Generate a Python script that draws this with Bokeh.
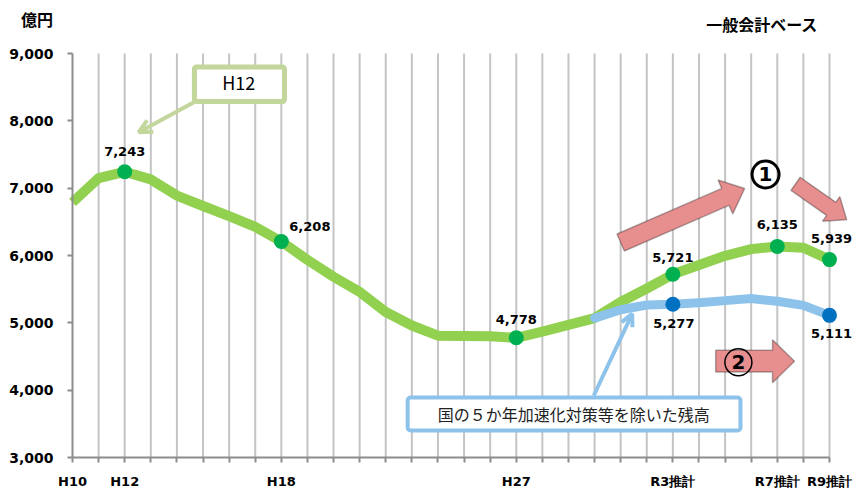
import math
from bokeh.plotting import figure
from bokeh.models import (FixedTicker, NumeralTickFormatter, ColumnDataSource, LabelSet, Label,
                          BoxAnnotation, PolyAnnotation, Arrow, OpenHead, Range1d)
from bokeh.core.properties import value
from bokeh.embed import file_html
from bokeh.resources import INLINE

# ---------------- data ----------------
years = ["H10", "H11", "H12", "H13", "H14", "H15", "H16", "H17", "H18", "H19",
         "H20", "H21", "H22", "H23", "H24", "H25", "H26", "H27", "H28", "H29",
         "H30", "R1", "R2", "R3", "R4", "R5", "R6", "R7", "R8", "R9"]
shown_labels = {"H10": "H10", "H12": "H12", "H18": "H18", "H27": "H27",
                "R3": "R3推計", "R7": "R7推計", "R9": "R9推計"}
total = [6790, 7150, 7243, 7130, 6890, 6735, 6585, 6425, 6208, 5935,
         5685, 5460, 5160, 4960, 4810, 4805, 4800, 4778, 4870, 4970,
         5070, 5310, 5510, 5721, 5860, 5995, 6095, 6135, 6115, 5939]
excl_years = ["H30", "R1", "R2", "R3", "R4", "R5", "R6", "R7", "R8", "R9"]
excl = [5070, 5195, 5265, 5277, 5300, 5330, 5360, 5320, 5260, 5111]
total_marked = ["H12", "H18", "H27", "R3", "R7", "R9"]
excl_marked = ["R3", "R9"]
y_ticks = [3000, 4000, 5000, 6000, 7000, 8000, 9000]
y_min, y_max = 3000, 9000

# ---------------- layout constants ----------------
W, H = 855, 489
FRAME_L, FRAME_R, FRAME_T, FRAME_B = 72, 829, 53, 457   # pixel box of the value area
n = len(years)
SX = (FRAME_R - FRAME_L) / (n - 1)
SY = (FRAME_B - FRAME_T) / float(y_max - y_min)
NUM = "DejaVu Sans"
JP = "Noto Sans CJK JP"
idx = {y: i for i, y in enumerate(years)}
xs = list(range(n))

p = figure(width=W, height=H,
           x_range=Range1d(-FRAME_L / SX, (W - FRAME_L) / SX),
           y_range=Range1d(y_min - (H - FRAME_B) / SY, y_max + FRAME_T / SY),
           output_backend="svg", toolbar_location=None,
           min_border_left=0, min_border_right=0, min_border_top=0, min_border_bottom=0)
p.outline_line_color = None
p.background_fill_color = "white"
p.border_fill_color = "white"
p.xgrid.grid_line_color = None
p.ygrid.grid_line_color = None

# vertical category grid lines, limited to the value area
p.segment(x0=xs[1:], y0=[y_min] * (n - 1), x1=xs[1:], y1=[y_max] * (n - 1),
          line_color="#C4C4C4", line_width=2)

p.xaxis.fixed_location = y_min
p.xaxis.bounds = (0, n - 1)
p.xaxis.ticker = FixedTicker(ticks=xs)
p.xaxis.major_label_overrides = {i: shown_labels.get(y, "") for i, y in enumerate(years)}
p.xaxis.major_label_text_font = NUM
p.xaxis.major_label_text_font_size = "13px"
p.xaxis.major_label_text_font_style = "bold"
p.xaxis.major_label_text_color = "black"
p.xaxis.major_label_standoff = 11
p.yaxis.fixed_location = 0
p.yaxis.bounds = (y_min, y_max)
p.yaxis.ticker = FixedTicker(ticks=y_ticks)
p.yaxis.formatter = NumeralTickFormatter(format="0,0")
p.yaxis.major_label_text_font = NUM
p.yaxis.major_label_text_font_size = "14px"
p.yaxis.major_label_text_font_style = "bold"
p.yaxis.major_label_text_color = "black"
p.yaxis.major_label_standoff = 14
for ax in (p.xaxis, p.yaxis):
    ax.axis_line_color = "#8C8C8C"
    ax.axis_line_width = 2
    ax.major_tick_line_color = "#8C8C8C"
    ax.major_tick_line_width = 2
    ax.major_tick_out = 5
    ax.major_tick_in = 0
    ax.minor_tick_line_color = None

# lines
p.line(x=xs, y=total, line_width=10, line_color="#92D050", line_cap="butt", line_join="round")
p.line(x=[idx[y] for y in excl_years], y=excl, line_width=9, line_color="#8DC3EB",
       line_cap="round", line_join="round")

# markers + labels
g_src = ColumnDataSource(dict(
    x=[idx[y] for y in total_marked],
    y=[total[idx[y]] for y in total_marked],
    t=["{:,}".format(total[idx[y]]) for y in total_marked],
    dx=[0, 8, 0, 0, 0, 2],
    dy=[20, 15, 18, 17, 22, 21],
    al=["center", "left", "center", "center", "center", "center"]))
e_map = dict(zip(excl_years, excl))
b_src = ColumnDataSource(dict(
    x=[idx[y] for y in excl_marked],
    y=[e_map[y] for y in excl_marked],
    t=["{:,}".format(e_map[y]) for y in excl_marked],
    dx=[1, 2],
    dy=[-19, -18]))
p.scatter(x="x", y="y", source=g_src, size=15, fill_color="#00B050", line_color=None)
p.scatter(x="x", y="y", source=b_src, size=15, fill_color="#0070C0", line_color=None)
p.add_layout(LabelSet(x="x", y="y", text="t", source=g_src, x_offset="dx", y_offset="dy",
                      text_align="al", text_baseline=value("middle"), text_font=value(NUM),
                      text_font_size=value("13px"), text_font_style=value("bold"),
                      text_color=value("black")))
p.add_layout(LabelSet(x="x", y="y", text="t", source=b_src, x_offset="dx", y_offset="dy",
                      text_align=value("center"), text_baseline=value("middle"), text_font=value(NUM),
                      text_font_size=value("13px"), text_font_style=value("bold"),
                      text_color=value("black")))

# ---------------- decorations ----------------
def block_arrow(x0, y0, x1, y1, shaft, head_w, head_len):
    X0, Y0, X1, Y1 = x0 * SX, y0 * SY, x1 * SX, y1 * SY
    dx, dy = X1 - X0, Y1 - Y0
    L = math.hypot(dx, dy)
    ux, uy = dx / L, dy / L
    nx, ny = -uy, ux
    bx, by = X1 - ux * head_len, Y1 - uy * head_len
    pts = [(X0 + nx * shaft / 2, Y0 + ny * shaft / 2),
           (bx + nx * shaft / 2, by + ny * shaft / 2),
           (bx + nx * head_w / 2, by + ny * head_w / 2),
           (X1, Y1),
           (bx - nx * head_w / 2, by - ny * head_w / 2),
           (bx - nx * shaft / 2, by - ny * shaft / 2),
           (X0 - nx * shaft / 2, Y0 - ny * shaft / 2)]
    return [q[0] / SX for q in pts], [q[1] / SY for q in pts]


PINK = "#E68F8E"
for (a, b, c, d, s, hw, hl) in [(21.0, 6193, 25.75, 6995, 18.5, 37, 21),
                                (27.70, 7065, 29.66, 6530, 16, 30, 19),
                                (24.64, 4430, 27.66, 4430, 21.7, 43, 22)]:
    pxs, pys = block_arrow(a, b, c, d, s, hw, hl)
    p.add_layout(PolyAnnotation(xs=pxs, ys=pys, fill_color=PINK, fill_alpha=1,
                                line_color="black", line_width=1.5))

# circled numbers
c1 = p.scatter(x=[26.55], y=[7203], size=27, marker="circle", fill_color=None,
               line_color="black", line_width=3)
c1.level = "overlay"
p.add_layout(Label(x=26.55, y=7203, text="1", text_font=NUM, text_font_size="20px",
                   text_font_style="bold", text_align="center", text_baseline="middle",
                   text_color="black"))
c2 = p.scatter(x=[25.51], y=[4415], size=27, marker="circle", fill_color=None,
               line_color="black", line_width=1.5)
c2.level = "overlay"
p.add_layout(Label(x=25.51, y=4415, text="2", text_font=NUM, text_font_size="20px",
                   text_font_style="bold", text_align="center", text_baseline="middle",
                   text_color="black"))

# H12 callout
LG = "#C3D69B"
p.add_layout(Arrow(end=OpenHead(size=13, line_color=LG, line_width=4),
                   x_start=4.65, y_start=8277, x_end=2.54, y_end=7831,
                   line_color=LG, line_width=4))
p.add_layout(BoxAnnotation(left=4.67, right=8.12, top=8800, bottom=8287, fill_color="white",
                           fill_alpha=1, line_color=LG, line_width=5, line_alpha=1, border_radius=2))
p.add_layout(Label(x=6.37, y=8574, text="H12", text_font=JP, text_font_size="18px",
                   text_align="center", text_baseline="middle", text_color="black"))

# excl callout
LB = "#8DC3EB"
p.add_layout(Arrow(end=OpenHead(size=12, line_color=LB, line_width=4),
                   x_start=19.97, y_start=3921, x_end=21.44, y_end=5134,
                   line_color=LB, line_width=4))
p.add_layout(BoxAnnotation(left=12.84, right=25.59, top=3891, bottom=3401, fill_color="white",
                           fill_alpha=1, line_color=LB, line_width=4, line_alpha=1, border_radius=3))
p.add_layout(Label(x=19.2, y=3639, text="国の５か年加速化対策等を除いた残高", text_font=JP,
                   text_font_size="16px", text_align="center", text_baseline="middle",
                   text_color="#222222"))

# header texts
p.add_layout(Label(x=-1.36, y=9505, text="億円", text_font=JP, text_font_size="16px",
                   text_font_style="bold", text_align="center", text_baseline="middle",
                   text_color="black"))
p.add_layout(Label(x=26.42, y=9438, text="一般会計ベース", text_font=JP, text_font_size="16px",
                   text_font_style="bold", text_align="center", text_baseline="middle",
                   text_color="black"))

open("out.html", "w").write(file_html(p, INLINE))
